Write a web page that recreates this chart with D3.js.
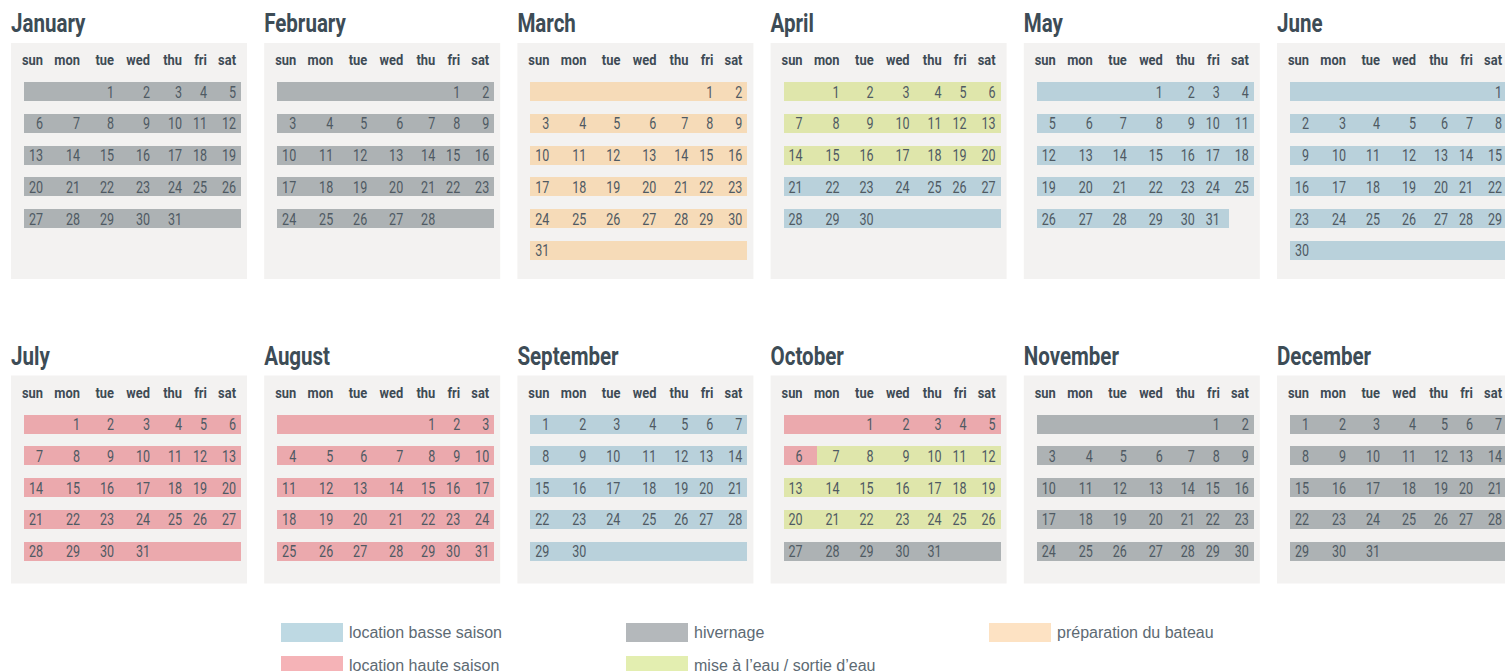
<!DOCTYPE html>
<html>
<head>
<meta charset="utf-8">
<script src="https://cdn.jsdelivr.net/npm/d3@7"></script>
<style>
  body { margin:0; background:#fff; }
  svg { display:block; }
  .cond { font-family:Roboto,"Noto Sans",sans-serif; }
</style>
</head>
<body>
<div id="chart"></div>
<script>
(function(){

/* ---------- data ---------- */
const year = 2013;
const monthNames = ["January","February","March","April","May","June",
                    "July","August","September","October","November","December"];
const weekdayLabels = ["sun","mon","tue","wed","thu","fri","sat"];

// season periods: start date of each period and its season
const periodStarts  = ["2013-01-01","2013-03-01","2013-04-01","2013-04-21","2013-07-01",
                       "2013-09-01","2013-10-01","2013-10-07","2013-10-27"];
const periodSeasons = ["hivernage","prep","mise","basse","haute",
                       "basse","haute","mise","hivernage"];

const seasonKeys   = ["basse","haute","hivernage","mise","prep"];
const seasonLabels = ["location basse saison","location haute saison","hivernage",
                      "mise à l’eau / sortie d’eau","préparation du bateau"];
const barColors    = ["#b9d1db","#eba9ad","#adb2b4","#dfe6ab","#f6dbb8"];
const legendColors = ["#bed9e3","#f5b3b7","#b4b8bb","#e3eeb0","#fde2c3"];

// months whose last row is not padded after the last day
const noTrailingFill = ["May"];

/* ---------- layout ---------- */
const W = 1505, H = 671;
const panelW = 236, panelStep = 253.2, panelX0 = 11;
const rowTops = [43, 375.5];
const barTop = 39, barH = 19, weekStep = 31.75;
const colEdges = [13, 46, 83, 117, 152, 182, 205, 230];
const textRight = [32, 69, 103, 139, 171, 196, 225];

const parse = d3.timeParse("%Y-%m-%d");
const starts = periodStarts.map(parse);
const season = d3.scaleThreshold()
    .domain(starts.slice(1))
    .range(periodSeasons);
const fill = d3.scaleOrdinal().domain(seasonKeys).range(barColors);
const legendFill = d3.scaleOrdinal().domain(seasonKeys).range(legendColors);

const svg = d3.select("#chart").append("svg")
    .attr("width", W).attr("height", H);

// condensed look: squeeze text horizontally
function squeeze(sel, sx) {
    return sel.attr("transform", function(){
        const x = +this.getAttribute("data-x"), y = +this.getAttribute("data-y");
        return `translate(${x},${y}) scale(${sx},1)`;
    });
}

const months = monthNames.map((name, i) => {
    const first = new Date(year, i, 1);
    const last = new Date(year, i + 1, 0);
    const weeks = d3.timeWeek.count(first, last) + 1;
    return {name, i, first, last, weeks};
});

const rowWeeks = [0, 1].map(r => d3.max(months.filter(m => Math.floor(m.i/6) === r), m => m.weeks));

months.forEach(m => {
    const col = m.i % 6, row = Math.floor(m.i / 6);
    const x0 = panelX0 + col * panelStep, y0 = rowTops[row];
    const g = svg.append("g").attr("transform", `translate(${x0},${y0})`);
    const ph = 68 + rowWeeks[row] * 28;

    g.append("text")
        .attr("class","cond")
        .attr("data-x", 0).attr("data-y", -11)
        .style("font-size","26px").style("font-weight","bold")
        .style("fill","#3d4c56")
        .text(m.name)
        .call(squeeze, 0.79);

    g.append("rect")
        .attr("width", panelW).attr("height", ph)
        .attr("fill", "#f3f2f1");

    g.selectAll(".wd").data(weekdayLabels).enter().append("text")
        .attr("class","cond")
        .attr("data-x", (d, k) => textRight[k]).attr("data-y", 22)
        .attr("text-anchor","end")
        .style("font-size","15px").style("font-weight","bold")
        .style("fill","#3e4b55")
        .text(d => d)
        .call(squeeze, 0.86);

    // cells
    const weekStart = d3.timeWeek.floor(m.first);
    const cells = [];
    for (let w = 0; w < m.weeks; w++) {
        for (let k = 0; k < 7; k++) {
            const date = d3.timeDay.offset(weekStart, w * 7 + k);
            let key = null, label = null;
            if (date < m.first) key = season(m.first);
            else if (date > m.last) key = noTrailingFill.includes(m.name) ? null : season(m.last);
            else { key = season(date); label = date.getDate(); }
            cells.push({w, k, key, label});
        }
    }

    g.selectAll(".cell").data(cells.filter(c => c.key)).enter().append("rect")
        .attr("x", d => colEdges[d.k])
        .attr("y", d => barTop + d.w * weekStep)
        .attr("width", d => colEdges[d.k + 1] - colEdges[d.k])
        .attr("height", barH)
        .attr("fill", d => fill(d.key))
        .attr("shape-rendering","crispEdges");

    g.selectAll(".num").data(cells.filter(c => c.label)).enter().append("text")
        .attr("class","cond")
        .attr("data-x", d => textRight[d.k])
        .attr("data-y", d => barTop + d.w * weekStep + 15.5)
        .attr("text-anchor","end")
        .style("font-size","16.5px")
        .style("fill","#4f5a63")
        .text(d => d.label)
        .call(squeeze, 0.76);
});

/* ---------- legend ---------- */
const legendPos = [[281,623],[281,656],[626,623],[626,656],[989,623]];
const legend = svg.append("g").selectAll("g").data(seasonKeys).enter().append("g")
    .attr("transform", (d, i) => `translate(${legendPos[i][0]},${legendPos[i][1]})`);
legend.append("rect")
    .attr("width", 62).attr("height", 19)
    .attr("fill", d => legendFill(d));
legend.append("text")
    .attr("x", 68).attr("y", 14.5)
    .style("font-family","'Liberation Sans',Arial,sans-serif")
    .style("font-size","16px")
    .style("fill","#5d6a73")
    .text((d, i) => seasonLabels[i]);

})();
</script>
</body>
</html>
